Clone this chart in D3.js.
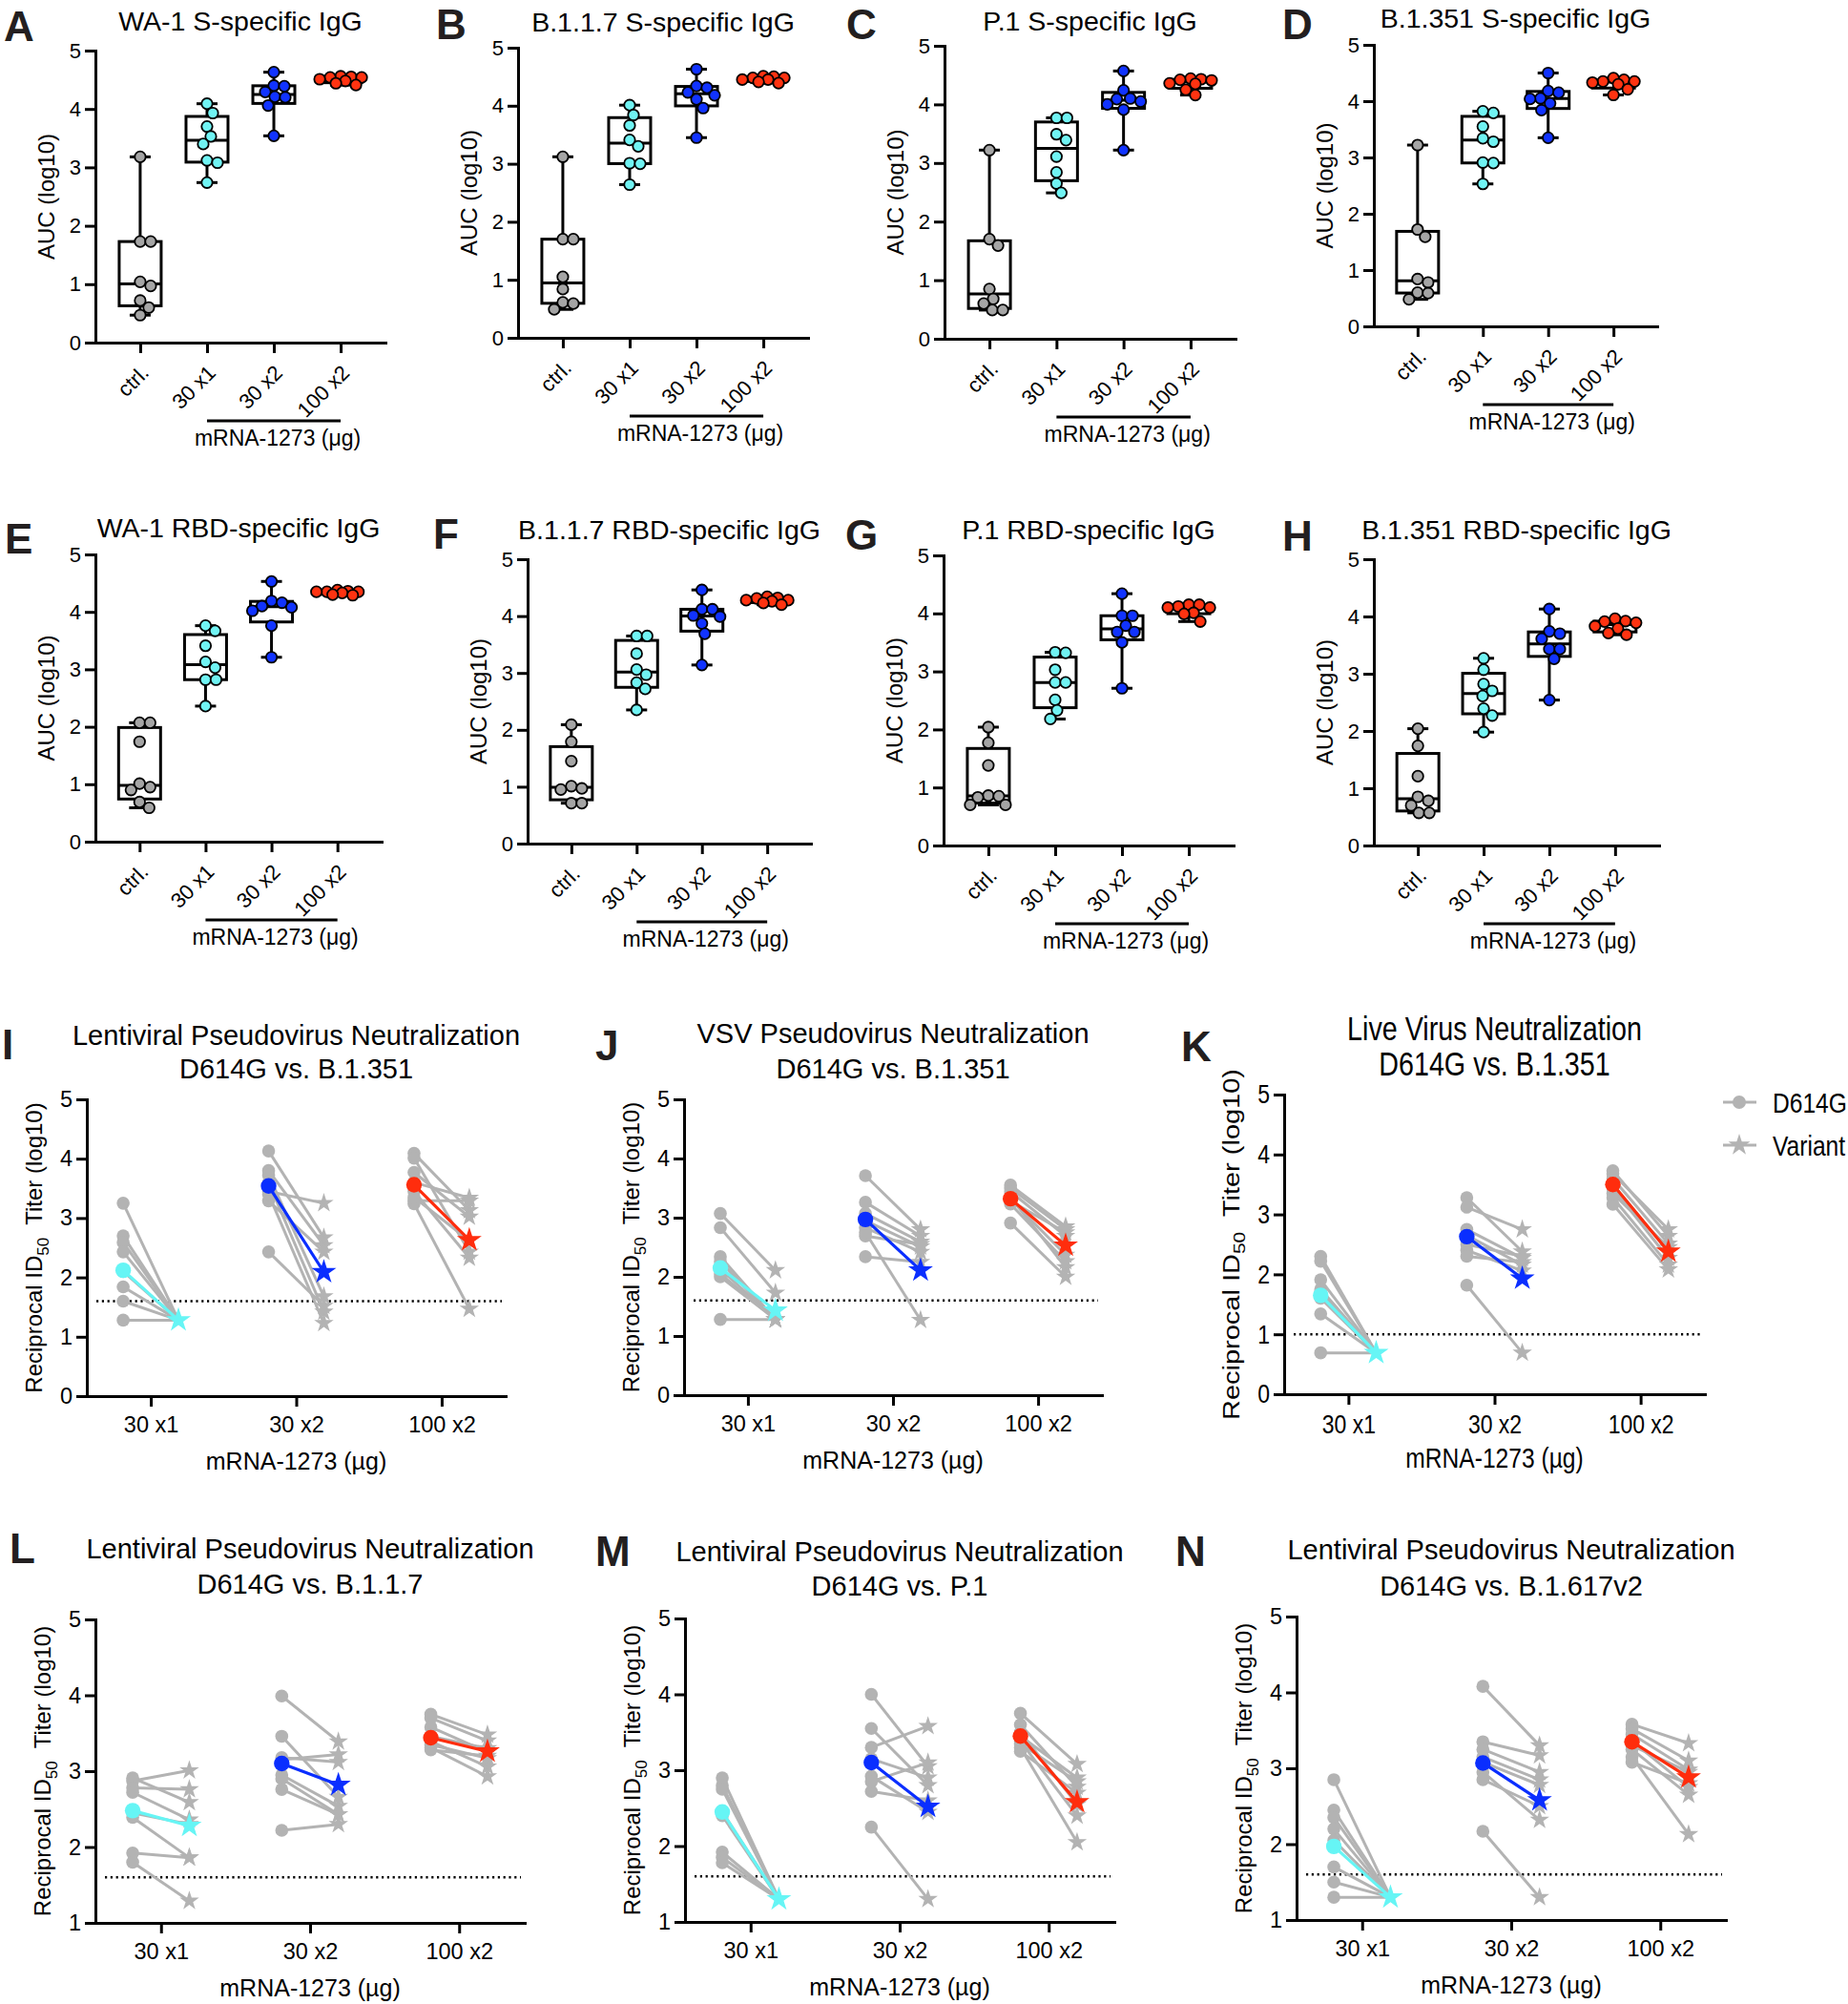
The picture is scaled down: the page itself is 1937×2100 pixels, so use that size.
<!DOCTYPE html>
<html>
<head>
<meta charset="utf-8">
<script src="https://cdnjs.cloudflare.com/ajax/libs/d3/7.8.5/d3.min.js"></script>
<style>
  body { margin: 0; background: #fff; }
  text { font-family: "Liberation Sans", Arial, Helvetica, sans-serif; fill: #000; }
  .letter { font-size: 44px; font-weight: bold; fill: #231f20; }
  .title { font-size: 28.5px; }
  .ylab { font-size: 24px; }
  .xlab { font-size: 23px; }
  .axis text { font-size: 22px; }
  .axis path, .axis line { stroke: #000; stroke-width: 3; }
  .axis path { stroke-linecap: square; }
  .pair .title { font-size: 29px; }
  .pair .ylab { font-size: 24px; }
  .pair .xlab { font-size: 25px; }
  .pair .axis text { font-size: 23.5px; }
  .narrow .title { font-size: 35px; }
  .narrow .ylab { font-size: 29px; }
  .narrow .xlab { font-size: 30px; }
  .narrow .axis text { font-size: 28px; }
  .narrow .legend { font-size: 30px; }
</style>
</head>
<body>
<div id="chart"></div>
<script>
// Categories and ticks
const groups = ["ctrl.", "30 x1", "30 x2", "100 x2"];
const doses = ["30 x1", "30 x2", "100 x2"];
const strains = ["D614G", "Variant"];
const aucTicks = [0, 1, 2, 3, 4, 5];
const titerTicks = [0, 1, 2, 3, 4, 5];
const titerTicksHigh = [1, 2, 3, 4, 5];

// AUC (log10) per animal: ctrl, 30 x1, 30 x2, 100 x2
const aWA1S = [
  [3.18, 1.73, 1.73, 1.04, 0.97, 0.72, 0.60, 0.47],
  [4.09, 3.93, 3.70, 3.53, 3.40, 3.12, 3.08, 2.74],
  [4.63, 4.40, 4.39, 4.29, 4.21, 4.20, 4.06, 3.54],
  [4.56, 4.55, 4.54, 4.54, 4.51, 4.48, 4.44, 4.41]
];
const bB117S = [
  [3.12, 1.70, 1.70, 1.05, 0.84, 0.61, 0.59, 0.49],
  [4.01, 3.84, 3.66, 3.41, 3.30, 3.01, 3.00, 2.64],
  [4.63, 4.34, 4.31, 4.23, 4.18, 4.11, 3.96, 3.45],
  [4.51, 4.50, 4.48, 4.48, 4.45, 4.45, 4.41, 4.39]
];
const cP1S = [
  [3.22, 1.70, 1.59, 0.85, 0.68, 0.60, 0.49, 0.49],
  [3.77, 3.77, 3.49, 3.39, 3.11, 2.84, 2.65, 2.49],
  [4.57, 4.24, 4.10, 4.09, 4.05, 4.00, 3.91, 3.22],
  [4.44, 4.43, 4.42, 4.41, 4.36, 4.35, 4.25, 4.16]
];
const dB1351S = [
  [3.22, 1.72, 1.59, 0.84, 0.78, 0.60, 0.59, 0.48],
  [3.82, 3.79, 3.55, 3.34, 3.28, 2.91, 2.90, 2.53],
  [4.50, 4.18, 4.15, 4.05, 4.04, 3.96, 3.84, 3.35],
  [4.41, 4.38, 4.35, 4.35, 4.33, 4.30, 4.21, 4.11]
];
const eWA1RBD = [
  [2.07, 2.07, 1.74, 1.01, 0.95, 0.90, 0.69, 0.59],
  [3.76, 3.67, 3.41, 3.13, 3.03, 2.82, 2.82, 2.36],
  [4.53, 4.19, 4.16, 4.10, 4.08, 4.02, 3.76, 3.21],
  [4.38, 4.36, 4.35, 4.35, 4.35, 4.33, 4.30, 4.29]
];
const fB117RBD = [
  [2.09, 1.79, 1.45, 1.01, 0.97, 0.95, 0.71, 0.71],
  [3.65, 3.65, 3.34, 3.06, 2.97, 2.83, 2.72, 2.35],
  [4.46, 4.12, 4.12, 4.01, 3.99, 3.87, 3.69, 3.14],
  [4.34, 4.32, 4.31, 4.28, 4.28, 4.26, 4.23, 4.20]
];
const gP1RBD = [
  [2.04, 1.77, 1.38, 0.86, 0.85, 0.83, 0.70, 0.70],
  [3.33, 3.32, 3.03, 2.81, 2.81, 2.51, 2.33, 2.18],
  [4.34, 3.96, 3.96, 3.79, 3.68, 3.68, 3.50, 2.71],
  [4.15, 4.15, 4.12, 4.10, 4.10, 4.01, 3.99, 3.86]
];
const hB1351RBD = [
  [2.04, 1.74, 1.21, 0.85, 0.78, 0.70, 0.57, 0.57],
  [3.27, 3.07, 2.82, 2.70, 2.61, 2.39, 2.27, 1.98],
  [4.13, 3.74, 3.70, 3.61, 3.43, 3.43, 3.26, 2.54],
  [3.96, 3.92, 3.91, 3.89, 3.83, 3.79, 3.71, 3.68]
];

// Neutralization titers (log10), paired per animal: 30 x1, 30 x2, 100 x2
const iD614G = [
  [3.25, 2.70, 2.59, 2.43, 2.10, 1.84, 1.60, 1.28],
  [4.13, 3.80, 3.72, 3.60, 3.45, 3.29, 3.40, 2.43],
  [4.09, 4.01, 3.77, 3.60, 3.45, 3.29, 3.24, 3.35]
];
const iVariant = [
  [1.28, 1.28, 1.28, 1.28, 1.28, 1.28, 1.28, 1.28],
  [2.67, 2.54, 1.68, 1.42, 3.25, 2.43, 1.23, 1.52],
  [3.13, 2.43, 3.02, 3.34, 2.33, 3.29, 1.47, 2.62]
];
const iMean = [[2.12, 1.28], [3.54, 2.09], [3.56, 2.63]];

const jD614G = [
  [3.07, 2.83, 2.34, 2.26, 2.13, 2.00, 2.05, 1.28],
  [3.71, 3.26, 3.07, 2.95, 2.83, 2.69, 2.75, 2.34],
  [3.55, 3.50, 3.44, 3.35, 3.31, 3.23, 3.28, 2.91]
];
const jVariant = [
  [2.11, 1.73, 1.28, 1.28, 1.28, 1.28, 1.28, 1.28],
  [2.80, 2.69, 2.59, 2.51, 2.42, 2.55, 1.27, 2.25],
  [2.85, 2.80, 2.69, 2.16, 2.37, 2.26, 2.75, 2.00]
];
const jMean = [[2.15, 1.43], [2.97, 2.11], [3.32, 2.53]];

const kD614G = [
  [2.30, 2.22, 1.91, 1.75, 1.60, 1.34, 0.69, 1.70],
  [3.28, 3.12, 2.75, 2.65, 2.40, 2.30, 1.82, 2.50],
  [3.73, 3.68, 3.60, 3.50, 3.44, 3.28, 3.17, 3.35]
];
const kVariant = [
  [0.69, 0.69, 0.69, 0.69, 0.69, 0.69, 0.69, 0.69],
  [2.38, 2.75, 2.27, 2.16, 2.06, 2.20, 0.69, 2.30],
  [2.64, 2.75, 2.51, 2.38, 2.27, 2.16, 2.08, 2.45]
];
const kMean = [[1.65, 0.69], [2.63, 1.93], [3.50, 2.38]];

const lD614G = [
  [2.91, 2.87, 2.78, 2.72, 2.39, 1.92, 1.80, 2.45],
  [3.99, 3.46, 3.18, 3.15, 2.95, 2.90, 2.76, 2.22],
  [3.75, 3.70, 3.58, 3.46, 3.39, 3.35, 3.31, 3.28]
];
const lVariant = [
  [2.59, 3.01, 2.76, 2.36, 1.86, 1.86, 1.29, 2.30],
  [3.39, 2.66, 3.12, 3.22, 2.54, 2.43, 2.43, 2.30],
  [3.48, 3.40, 3.25, 3.30, 3.06, 3.17, 2.93, 3.20]
];
const lMean = [[2.48, 2.28], [3.10, 2.82], [3.44, 3.26]];

const mD614G = [
  [2.90, 2.80, 2.75, 2.45, 2.40, 1.92, 1.85, 1.78],
  [4.00, 3.55, 3.30, 3.15, 2.92, 2.72, 2.85, 2.25],
  [3.75, 3.60, 3.45, 3.38, 3.30, 3.25, 3.50, 3.35]
];
const mVariant = [
  [1.30, 1.30, 1.30, 1.30, 1.30, 1.30, 1.30, 1.30],
  [3.05, 2.80, 3.58, 2.90, 2.45, 2.60, 3.10, 1.30],
  [3.08, 2.78, 2.90, 2.40, 2.05, 2.70, 2.55, 2.85]
];
const mMean = [[2.45, 1.30], [3.10, 2.52], [3.45, 2.58]];

const nD614G = [
  [2.85, 2.45, 2.35, 2.20, 2.05, 1.70, 1.50, 1.30],
  [4.08, 3.35, 3.25, 3.08, 2.95, 2.85, 3.15, 2.17],
  [3.58, 3.52, 3.45, 3.36, 3.25, 3.15, 3.08, 3.30]
];
const nVariant = [
  [1.30, 1.30, 1.30, 1.30, 1.30, 1.30, 1.30, 1.30],
  [3.30, 3.17, 2.95, 2.78, 2.32, 2.50, 2.85, 1.30],
  [3.33, 3.10, 2.98, 2.75, 2.65, 2.13, 2.80, 2.95]
];
const nMean = [[1.97, 1.30], [3.07, 2.58], [3.35, 2.88]];

// Colours
const groupColors = ["#a5a5a5", "#70f3f3", "#1133ff", "#ff3311"];
const doseColors = ["#66f5f5", "#0a2eff", "#ff2d0d"];
const pairGray = "#b3b3b3";

// Panel layouts
const boxPanels = [
  { id: "A", title: "WA-1 S-specific IgG", data: aWA1S, xr: [100, 404], yr: [359, 53], titleY: 32, letter: [4, 43] },
  { id: "B", title: "B.1.1.7 S-specific IgG", data: bB117S, xr: [543, 847], yr: [354, 50], titleY: 33, letter: [457, 41] },
  { id: "C", title: "P.1 S-specific IgG", data: cP1S, xr: [990, 1295], yr: [355, 48], titleY: 32, letter: [887, 41] },
  { id: "D", title: "B.1.351 S-specific IgG", data: dB1351S, xr: [1440, 1737], yr: [342, 47], titleY: 29, letter: [1344, 41] },
  { id: "E", title: "WA-1 RBD-specific IgG", data: eWA1RBD, xr: [100, 400], yr: [882, 581], titleY: 563, letter: [5, 580] },
  { id: "F", title: "B.1.1.7 RBD-specific IgG", data: fB117RBD, xr: [553, 850], yr: [884, 586], titleY: 565, letter: [454, 575] },
  { id: "G", title: "P.1 RBD-specific IgG", data: gP1RBD, xr: [989, 1293], yr: [886, 582], titleY: 565, letter: [886, 576] },
  { id: "H", title: "B.1.351 RBD-specific IgG", data: hB1351RBD, xr: [1440, 1739], yr: [886, 586], titleY: 565, letter: [1344, 577] }
];

const pairPanels = [
  { id: "I", t1: "Lentiviral Pseudovirus Neutralization", t2: "D614G vs. B.1.351", d614g: iD614G, variant: iVariant, mean: iMean,
    ticks: titerTicks, lod: 1.6, xr: [91, 530], yr: [1463, 1152], ty: [1095, 1130], letter: [2, 1110] },
  { id: "J", t1: "VSV Pseudovirus Neutralization", t2: "D614G vs. B.1.351", d614g: jD614G, variant: jVariant, mean: jMean,
    ticks: titerTicks, lod: 1.6, xr: [717, 1155], yr: [1462, 1152], ty: [1093, 1130], letter: [624, 1111] },
  { id: "K", t1: "Live Virus Neutralization", t2: "D614G vs. B.1.351", d614g: kD614G, variant: kVariant, mean: kMean,
    ticks: titerTicks, lod: 1.0, xr: [1346, 1787], yr: [1461, 1147], ty: [1090, 1127], letter: [1238, 1112], squeeze: 0.82 },
  { id: "L", t1: "Lentiviral Pseudovirus Neutralization", t2: "D614G vs. B.1.1.7", d614g: lD614G, variant: lVariant, mean: lMean,
    ticks: titerTicksHigh, lod: 1.6, xr: [100, 550], yr: [2015, 1697], ty: [1633, 1670], letter: [10, 1638] },
  { id: "M", t1: "Lentiviral Pseudovirus Neutralization", t2: "D614G vs. P.1", d614g: mD614G, variant: mVariant, mean: mMean,
    ticks: titerTicksHigh, lod: 1.6, xr: [718, 1168], yr: [2014, 1696], ty: [1636, 1672], letter: [624, 1641] },
  { id: "N", t1: "Lentiviral Pseudovirus Neutralization", t2: "D614G vs. B.1.617v2", d614g: nD614G, variant: nVariant, mean: nMean,
    ticks: titerTicksHigh, lod: 1.6, xr: [1359, 1809], yr: [2012, 1694], ty: [1634, 1672], letter: [1232, 1641] }
];

// Create SVG
const svg = d3.select("#chart")
  .append("svg")
  .attr("width", 1937)
  .attr("height", 2100);

// GraphPad-style quartile: position (n+1)p
function prismQuantile(s, p) {
  const h = (s.length + 1) * p - 1;
  const lo = Math.floor(h);
  if (lo < 0) return s[0];
  if (lo >= s.length - 1) return s[s.length - 1];
  return s[lo] + (h - lo) * (s[lo + 1] - s[lo]);
}

// simple beeswarm: horizontal offsets so that dots don't pile up
function swarm(ys, d) {
  const order = d3.range(ys.length).sort((a, b) => ys[a] - ys[b]);
  const xs = [];
  const placed = [];
  order.forEach(i => {
    let best = 0, bestGap = -Infinity;
    for (let k = 0; k <= 48; k++) {
      const cand = (k % 2 ? 1 : -1) * Math.ceil(k / 2);
      const gap = placed.length ? d3.min(placed, j => Math.hypot(cand - xs[j], ys[i] - ys[j])) : Infinity;
      if (gap >= d) { best = cand; break; }
      if (gap > bestGap) { bestGap = gap; best = cand; }
    }
    xs[i] = best;
    placed.push(i);
  });
  return xs;
}

// text placed with a transform so that it can be squeezed horizontally
function label(g, x, y, cls, txt, anchor, sx) {
  return g.append("text")
    .attr("class", cls)
    .attr("transform", `translate(${x},${y}) scale(${sx || 1},1)`)
    .attr("text-anchor", anchor)
    .text(txt);
}

function drawBoxPanel(p) {
  const g = svg.append("g");
  const x = d3.scalePoint().domain(groups).range(p.xr).padding(0.67);
  const y = d3.scaleLinear().domain([0, 5]).range(p.yr);

  g.append("text").attr("class", "letter").attr("x", p.letter[0]).attr("y", p.letter[1]).text(p.id);
  label(g, (p.xr[0] + p.xr[1]) / 2, p.titleY, "title", p.title, "middle");

  // axes
  g.append("g").attr("class", "axis")
    .attr("transform", `translate(${p.xr[0]},0)`)
    .call(d3.axisLeft(y).tickValues(aucTicks).tickFormat(d3.format("d"))
      .tickSize(11).tickSizeOuter(0).tickPadding(4));

  const xa = g.append("g").attr("class", "axis")
    .attr("transform", `translate(0,${p.yr[0]})`)
    .call(d3.axisBottom(x).tickSize(11).tickSizeOuter(0));
  xa.selectAll("text")
    .attr("y", 0).attr("dy", 0)
    .attr("transform", "translate(10,33) rotate(-45)")
    .style("text-anchor", "end");

  g.append("text").attr("class", "ylab")
    .attr("transform", `translate(${p.xr[0] - 43},${(p.yr[0] + p.yr[1]) / 2}) rotate(-90)`)
    .attr("text-anchor", "middle").text("AUC (log10)");

  // bracket under the vaccine groups
  g.append("line")
    .attr("x1", x(groups[1])).attr("x2", x(groups[3]))
    .attr("y1", p.yr[0] + 82).attr("y2", p.yr[0] + 82)
    .attr("stroke", "#000").attr("stroke-width", 3);
  label(g, (x(groups[1]) + x(groups[3])) / 2 + 4, p.yr[0] + 108, "xlab", "mRNA-1273 (μg)", "middle");

  // box and whiskers (min to max)
  p.data.forEach((vals, i) => {
    const s = vals.slice().sort(d3.ascending);
    const q1 = prismQuantile(s, 0.25), med = prismQuantile(s, 0.5), q3 = prismQuantile(s, 0.75);
    const cx = x(groups[i]);
    const bg = g.append("g").attr("stroke", "#000").attr("stroke-width", 3).attr("fill", "#fff");
    bg.append("line").attr("x1", cx).attr("x2", cx).attr("y1", y(s[s.length - 1])).attr("y2", y(s[0]));
    bg.append("rect").attr("x", cx - 22).attr("width", 44).attr("y", y(q3)).attr("height", y(q1) - y(q3));
    bg.append("line").attr("x1", cx - 22).attr("x2", cx + 22).attr("y1", y(med)).attr("y2", y(med));
    [s[0], s[s.length - 1]].forEach(v => {
      bg.append("line").attr("x1", cx - 11).attr("x2", cx + 11).attr("y1", y(v)).attr("y2", y(v));
    });

    const offs = swarm(vals.map(v => y(v)), 11);
    g.append("g").selectAll("circle")
      .data(vals)
      .join("circle")
      .attr("cx", (d, j) => cx + offs[j])
      .attr("cy", d => y(d))
      .attr("r", 5.7)
      .attr("fill", groupColors[i])
      .attr("stroke", "#000")
      .attr("stroke-width", 1.8);
  });
}

function drawPairPanel(p) {
  const sx = p.squeeze || 1;
  const g = svg.append("g").attr("class", sx < 1 ? "pair narrow" : "pair");
  const x = d3.scalePoint().domain(doses).range(p.xr).padding(0.44);
  const off = d3.scalePoint().domain(strains).range([-0.19 * x.step(), 0.19 * x.step()]);
  const y = d3.scaleLinear().domain([p.ticks[0], 5]).range(p.yr);
  const star = d3.symbol(d3.symbolStar);

  g.append("text").attr("class", "letter").attr("x", p.letter[0]).attr("y", p.letter[1]).text(p.id);
  const tx = (p.xr[0] + p.xr[1]) / 2;
  label(g, tx, p.ty[0], "title", p.t1, "middle", sx);
  label(g, tx, p.ty[1], "title", p.t2, "middle", sx);

  // axes
  const ya = g.append("g").attr("class", "axis")
    .attr("transform", `translate(${p.xr[0]},0)`)
    .call(d3.axisLeft(y).tickValues(p.ticks).tickFormat(d3.format("d"))
      .tickSize(11).tickSizeOuter(0).tickPadding(4));
  const xa = g.append("g").attr("class", "axis")
    .attr("transform", `translate(0,${p.yr[0]})`)
    .call(d3.axisBottom(x).tickSize(11).tickSizeOuter(0).tickPadding(10));
  if (sx < 1) {
    ya.selectAll("text").attr("x", -15 / sx).attr("transform", `scale(${sx},1)`);
    xa.selectAll("text").attr("transform", `scale(${sx},1)`);
  }

  const yl = g.append("text").attr("class", "ylab")
    .attr("transform", `translate(${p.xr[0] - 47},${(p.yr[0] + p.yr[1]) / 2}) scale(${sx},1) rotate(-90)`)
    .attr("text-anchor", "middle");
  yl.append("tspan").text("Reciprocal ID");
  yl.append("tspan").attr("dy", 7).style("font-size", sx < 1 ? "21px" : "17px").text("50");
  yl.append("tspan").attr("dy", -7).text("\u00a0 Titer (log10)");

  label(g, tx, p.yr[0] + 77, "xlab", "mRNA-1273 (µg)", "middle", sx);

  // limit of detection
  g.append("line")
    .attr("x1", p.xr[0] + 10).attr("x2", p.xr[1] - 4)
    .attr("y1", y(p.lod)).attr("y2", y(p.lod))
    .attr("stroke", "#000").attr("stroke-width", 2.6)
    .attr("stroke-dasharray", "2.2,3.6");

  doses.forEach((dose, i) => {
    const xa0 = x(dose) + off("D614G");
    const xb0 = x(dose) + off("Variant");
    const pairs = d3.zip(p.d614g[i], p.variant[i]);

    g.append("g").selectAll("line")
      .data(pairs)
      .join("line")
      .attr("x1", xa0).attr("x2", xb0)
      .attr("y1", d => y(d[0])).attr("y2", d => y(d[1]))
      .attr("stroke", pairGray).attr("stroke-width", 3);
    g.append("g").selectAll("circle")
      .data(p.d614g[i])
      .join("circle")
      .attr("cx", xa0).attr("cy", d => y(d)).attr("r", 6.8)
      .attr("fill", pairGray);
    g.append("g").selectAll("path")
      .data(p.variant[i])
      .join("path")
      .attr("d", star.size(130)())
      .attr("transform", d => `translate(${xb0},${y(d)})`)
      .attr("fill", pairGray);

    // group mean in colour
    const m = p.mean[i];
    g.append("line")
      .attr("x1", xa0).attr("x2", xb0).attr("y1", y(m[0])).attr("y2", y(m[1]))
      .attr("stroke", doseColors[i]).attr("stroke-width", 3.2);
    g.append("circle").attr("cx", xa0).attr("cy", y(m[0])).attr("r", 8.2).attr("fill", doseColors[i]);
    g.append("path")
      .attr("d", star.size(210)())
      .attr("transform", `translate(${xb0},${y(m[1])})`)
      .attr("fill", doseColors[i]);
  });

  // legend (panel K only)
  if (sx < 1) {
    const lg = g.append("g");
    const items = [{ name: strains[0], y: 1155 }, { name: strains[1], y: 1200 }];
    items.forEach((it, k) => {
      lg.append("line").attr("x1", 1806).attr("x2", 1841).attr("y1", it.y).attr("y2", it.y)
        .attr("stroke", pairGray).attr("stroke-width", 3);
      if (k === 0) {
        lg.append("circle").attr("cx", 1823).attr("cy", it.y).attr("r", 7).attr("fill", pairGray);
      } else {
        lg.append("path").attr("d", star.size(160)()).attr("transform", `translate(1823,${it.y})`).attr("fill", pairGray);
      }
      label(lg, 1858, it.y + 11, "legend", it.name, "start", sx);
    });
  }
}

boxPanels.forEach(drawBoxPanel);
pairPanels.forEach(drawPairPanel);
</script>
</body>
</html>
